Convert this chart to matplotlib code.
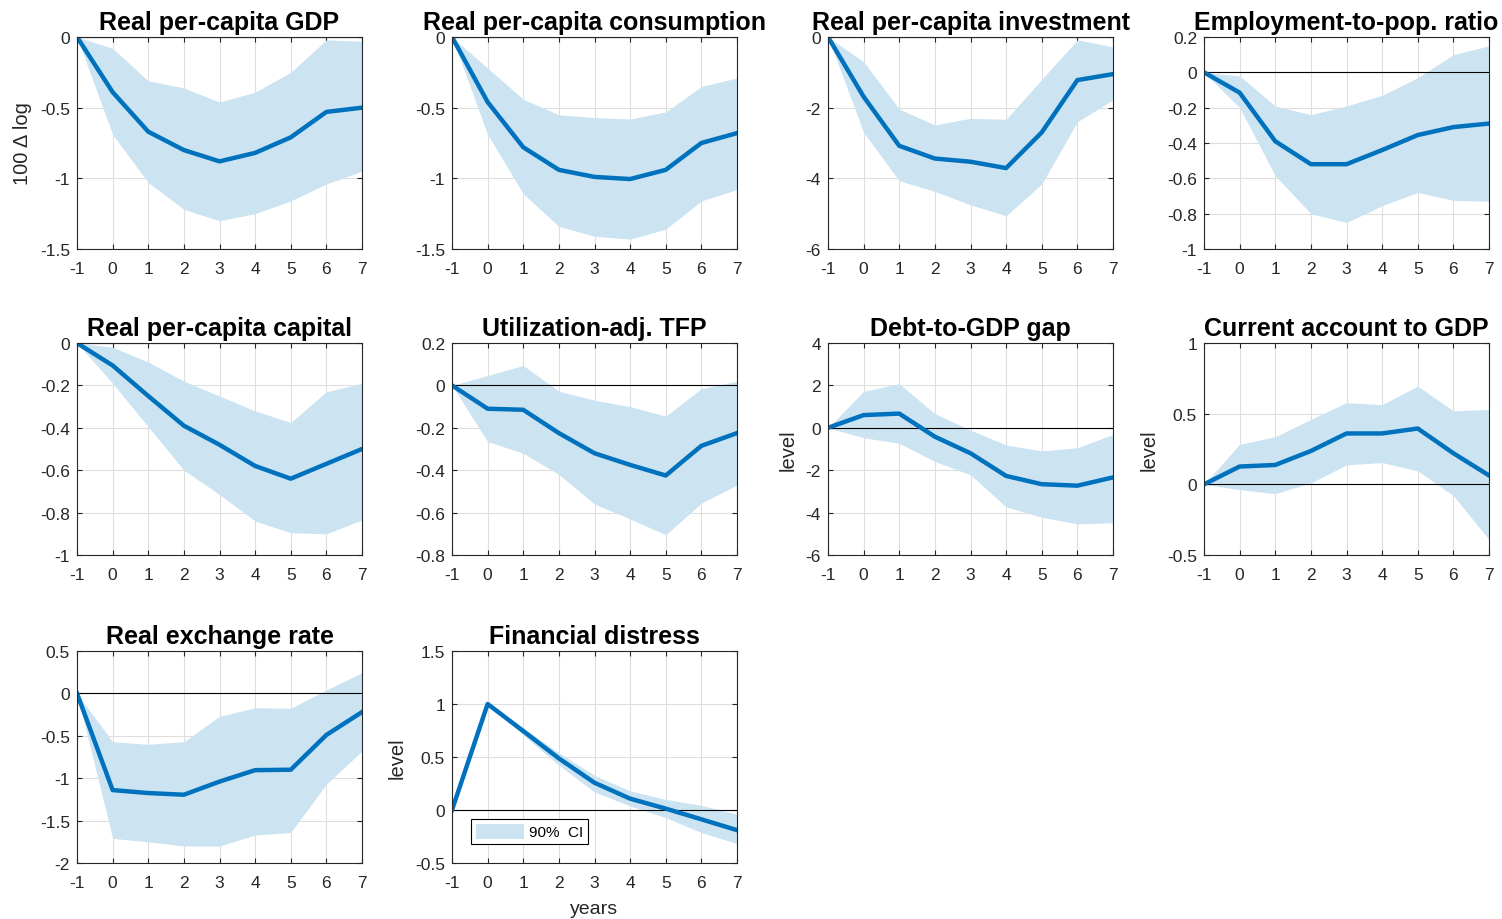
import numpy as np
import matplotlib
matplotlib.use("Agg")
import matplotlib.pyplot as plt
from matplotlib.ticker import FormatStrFormatter

plt.rcParams['font.family'] = ['Liberation Sans', 'DejaVu Sans']
plt.rcParams['axes.unicode_minus'] = False

# horizon (years)
years = [-1, 0, 1, 2, 3, 4, 5, 6, 7]

titles = ["Real per-capita GDP", "Real per-capita consumption",
          "Real per-capita investment", "Employment-to-pop. ratio",
          "Real per-capita capital", "Utilization-adj. TFP",
          "Debt-to-GDP gap", "Current account to GDP",
          "Real exchange rate", "Financial distress"]

gdp = [0, -0.39, -0.67, -0.80, -0.88, -0.82, -0.71, -0.53, -0.50]
gdp_hi = [0, -0.08, -0.31, -0.36, -0.46, -0.39, -0.25, -0.02, -0.03]
gdp_lo = [0, -0.69, -1.03, -1.22, -1.30, -1.25, -1.16, -1.04, -0.95]

cons = [0, -0.46, -0.78, -0.94, -0.99, -1.005, -0.94, -0.75, -0.68]
cons_hi = [0, -0.22, -0.44, -0.55, -0.57, -0.58, -0.53, -0.35, -0.29]
cons_lo = [0, -0.69, -1.11, -1.34, -1.41, -1.43, -1.36, -1.16, -1.08]

inv = [0, -1.69, -3.08, -3.44, -3.53, -3.71, -2.70, -1.22, -1.05]
inv_hi = [0, -0.70, -2.04, -2.49, -2.30, -2.33, -1.20, -0.08, -0.28]
inv_lo = [0, -2.70, -4.07, -4.37, -4.75, -5.06, -4.16, -2.40, -1.78]

emp = [0, -0.115, -0.39, -0.52, -0.52, -0.44, -0.355, -0.31, -0.29]
emp_hi = [0, -0.02, -0.19, -0.24, -0.19, -0.13, -0.03, 0.10, 0.15]
emp_lo = [0, -0.20, -0.585, -0.80, -0.85, -0.755, -0.68, -0.725, -0.73]

cap = [0, -0.106, -0.25, -0.39, -0.48, -0.58, -0.64, -0.57, -0.50]
cap_hi = [0, -0.02, -0.09, -0.18, -0.25, -0.32, -0.375, -0.23, -0.19]
cap_lo = [0, -0.19, -0.395, -0.60, -0.715, -0.84, -0.895, -0.90, -0.835]

tfp = [0, -0.11, -0.115, -0.225, -0.32, -0.375, -0.425, -0.285, -0.225]
tfp_hi = [0, 0.047, 0.094, -0.027, -0.07, -0.10, -0.145, -0.015, 0.02]
tfp_lo = [0, -0.265, -0.32, -0.42, -0.56, -0.63, -0.705, -0.555, -0.47]

debt = [0, 0.60, 0.67, -0.42, -1.20, -2.27, -2.66, -2.73, -2.34]
debt_hi = [0, 1.72, 2.08, 0.67, -0.11, -0.81, -1.09, -0.94, -0.31]
debt_lo = [0, -0.47, -0.73, -1.59, -2.22, -3.73, -4.22, -4.53, -4.48]

ca = [0, 0.126, 0.137, 0.236, 0.36, 0.36, 0.395, 0.22, 0.063]
ca_hi = [0, 0.283, 0.337, 0.46, 0.578, 0.564, 0.695, 0.52, 0.53]
ca_lo = [0, -0.038, -0.066, 0.01, 0.138, 0.154, 0.095, -0.08, -0.39]

rer = [0, -1.14, -1.175, -1.195, -1.04, -0.905, -0.90, -0.49, -0.22]
rer_hi = [0, -0.57, -0.60, -0.57, -0.27, -0.17, -0.175, 0.04, 0.245]
rer_lo = [0, -1.71, -1.75, -1.80, -1.80, -1.67, -1.64, -1.07, -0.68]

fin = [0, 1.0, 0.745, 0.487, 0.257, 0.107, 0.013, -0.088, -0.19]
fin_hi = [0, 1.0, 0.775, 0.54, 0.327, 0.18, 0.10, 0.044, -0.04]
fin_lo = [0, 1.0, 0.707, 0.424, 0.17, 0.038, -0.072, -0.213, -0.317]

series = [(gdp, gdp_hi, gdp_lo), (cons, cons_hi, cons_lo), (inv, inv_hi, inv_lo),
          (emp, emp_hi, emp_lo), (cap, cap_hi, cap_lo), (tfp, tfp_hi, tfp_lo),
          (debt, debt_hi, debt_lo), (ca, ca_hi, ca_lo), (rer, rer_hi, rer_lo),
          (fin, fin_hi, fin_lo)]

yticks = [[-1.5, -1, -0.5, 0], [-1.5, -1, -0.5, 0], [-6, -4, -2, 0],
          [-1, -0.8, -0.6, -0.4, -0.2, 0, 0.2], [-1, -0.8, -0.6, -0.4, -0.2, 0],
          [-0.8, -0.6, -0.4, -0.2, 0, 0.2], [-6, -4, -2, 0, 2, 4],
          [-0.5, 0, 0.5, 1], [-2, -1.5, -1, -0.5, 0, 0.5], [-0.5, 0, 0.5, 1, 1.5]]

ylabels = ["100 Δ log", "", "", "", "", "", "level", "level", "", "level"]

line_col = '#0072BD'
band_col = (0.8, 0.894, 0.949)
ink = '#262626'

W, H = 1502, 920
col_left = [77, 452, 828, 1204]
row_top = [38, 344, 652]
aw, ah = 285, 212

fig = plt.figure(figsize=(W / 100, H / 100), dpi=100)

for i, (mid, hi, lo) in enumerate(series):
    r, c = divmod(i, 4)
    ax = fig.add_axes([col_left[c] / W, 1 - (row_top[r] + ah) / H, aw / W, ah / H])
    ax.set_axisbelow(True)
    ax.fill_between(years, lo, hi, color=band_col, linewidth=0, label='90%  CI')
    ax.axhline(0, color='black', linewidth=0.8)
    ax.plot(years, mid, color=line_col, linewidth=3.2)
    ax.set_xlim(-1, 7)
    ax.set_ylim(yticks[i][0], yticks[i][-1])
    ax.set_xticks(years)
    ax.set_yticks(yticks[i])
    ax.yaxis.set_major_formatter(FormatStrFormatter('%g'))
    ax.grid(True, color='#dedede', linewidth=0.8)
    for sp in ax.spines.values():
        sp.set_color(ink)
        sp.set_linewidth(0.8)
    ax.tick_params(direction='in', top=True, right=True, length=3.5,
                   labelsize=12.5, colors=ink)
    ax.tick_params(axis='x', pad=9)
    ax.tick_params(axis='y', pad=5)
    ax.set_title(titles[i], fontsize=18, fontweight='bold', pad=6)
    if ylabels[i]:
        ax.set_ylabel(ylabels[i], fontsize=14.5, color=ink, labelpad=6)
    if i == 9:
        ax.set_xlabel("years", fontsize=14, color=ink, labelpad=7)
        leg = ax.legend(loc='lower left', bbox_to_anchor=(19 / aw, 19 / ah),
                        borderaxespad=0, fancybox=False, framealpha=1,
                        edgecolor='black', fontsize=11, handlelength=3.2,
                        handleheight=1.1, borderpad=0.3, handletextpad=0.3)
        leg.get_frame().set_linewidth(0.8)

fig.savefig('out.png', dpi=100)
